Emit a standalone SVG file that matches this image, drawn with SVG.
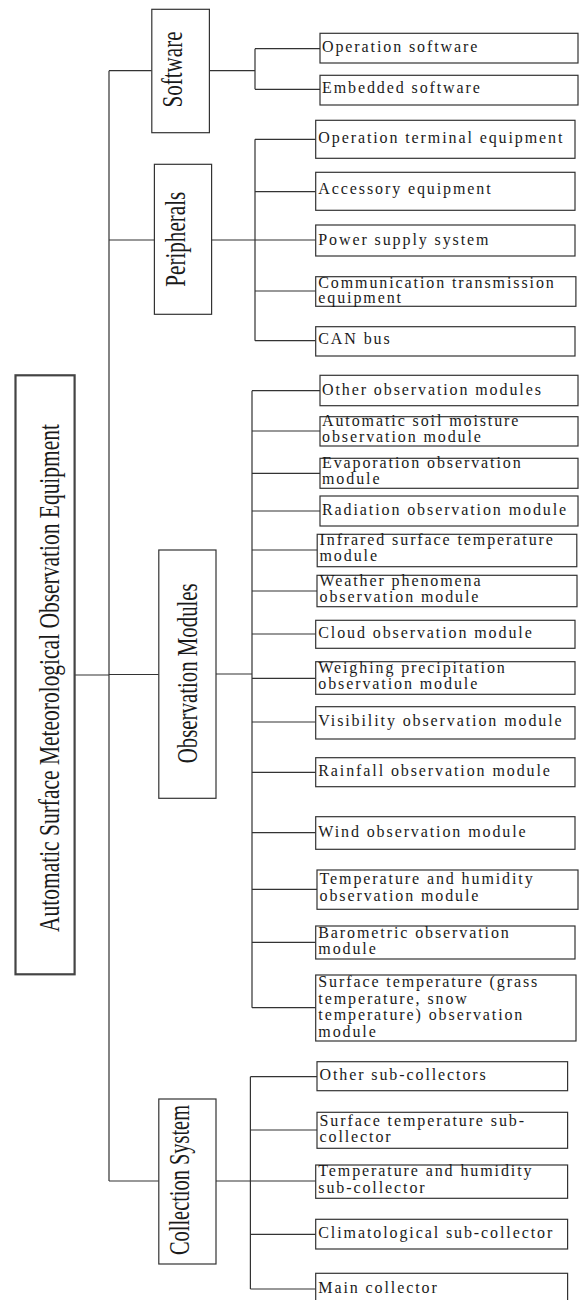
<svg xmlns="http://www.w3.org/2000/svg" width="579" height="1300" viewBox="0 0 579 1300">
<style>
  .bg { fill: #ffffff; }
  .box { fill: #ffffff; stroke: #333333; stroke-width: 1.2; }
  .root { fill: #ffffff; stroke: #444444; stroke-width: 2.2; }
  .lbl { font-family: "Liberation Serif", "Times New Roman", serif; font-size: 16px; letter-spacing: 1.9px; fill: #1a1a1a; }
  .vt { font-family: "Liberation Serif", "Times New Roman", serif; font-size: 30px; fill: #1a1a1a; text-anchor: middle; }
  .conn { fill: none; stroke: #333333; stroke-width: 1.2; }
</style>
<rect class="bg" x="0" y="0" width="579" height="1300"/>

<g id="connectors">
  <path class="conn" d="M74.6,675 H109 M109,70.7 V1181 M109,70.7 H151.8 M109,240 H154.4 M109,674.5 H158.8 M109,1181 H158.8"/>
  <path class="conn" d="M209.4,70.7 H255 M255,48.7 V89.3 M255,48.7 H320 M255,89.3 H320"/>
  <path class="conn" d="M211.6,240 H255 M255,139.3 V340.7 M255,139.3 H315.7 M255,191.7 H315.7 M255,240 H315.7 M255,291 H315.7 M255,340.7 H315.7"/>
  <path class="conn" d="M216,674 H252 M252,390.7 V1007.7 M252,390.7 H320 M252,431 H320 M252,473.3 H320 M252,511 H320 M252,550 H317.2 M252,591 H317 M252,634 H315.7 M252,678.3 H315.7 M252,722 H315.7 M252,772.3 H315.7 M252,832.7 H315.7 M252,889.3 H317 M252,942.3 H315.7 M252,1007.7 H315.7"/>
  <path class="conn" d="M216,1181 H250.4 M250.4,1076.7 V1289 M250.4,1076.7 H317 M250.4,1130 H317 M250.4,1181 H315.7 M250.4,1234.3 H315.7 M250.4,1289 H315.7"/>
</g>

<g id="root">
  <rect class="root" x="15.5" y="375.3" width="59.1" height="599"/>
  <text class="vt" transform="translate(59,678) rotate(-90)" textLength="508" lengthAdjust="spacingAndGlyphs">Automatic Surface Meteorological Observation Equipment</text>
</g>

<g id="software">
  <rect class="box" x="151.8" y="9.3" width="57.6" height="123.4"/>
  <text class="vt" transform="translate(182,69.5) rotate(-90)" textLength="76" lengthAdjust="spacingAndGlyphs">Software</text>
</g>
<g id="peripherals">
  <rect class="box" x="154.4" y="164.3" width="57.2" height="150"/>
  <text class="vt" transform="translate(185,239.2) rotate(-90)" textLength="95" lengthAdjust="spacingAndGlyphs">Peripherals</text>
</g>
<g id="observation-modules">
  <rect class="box" x="158.8" y="550" width="57.2" height="248.3"/>
  <text class="vt" transform="translate(196.5,673.3) rotate(-90)" textLength="180" lengthAdjust="spacingAndGlyphs">Observation Modules</text>
</g>
<g id="collection-system">
  <rect class="box" x="158.8" y="1099" width="57.2" height="165"/>
  <text class="vt" transform="translate(189,1180) rotate(-90)" textLength="150" lengthAdjust="spacingAndGlyphs">Collection System</text>
</g>

<g id="operation-software">
  <rect class="box" x="320" y="33.3" width="258" height="29.7"/>
  <text class="lbl" x="322" y="51.5">Operation software</text>
</g>
<g id="embedded-software">
  <rect class="box" x="320" y="75.3" width="258" height="29.7"/>
  <text class="lbl" x="322" y="92.5">Embedded software</text>
</g>

<g id="operation-terminal-equipment">
  <rect class="box" x="315.7" y="120.3" width="259.3" height="38"/>
  <text class="lbl" x="318.3" y="142.5">Operation terminal equipment</text>
</g>
<g id="accessory-equipment">
  <rect class="box" x="315.7" y="172.3" width="259.3" height="38"/>
  <text class="lbl" x="318.3" y="194">Accessory equipment</text>
</g>
<g id="power-supply-system">
  <rect class="box" x="315.7" y="225" width="259.3" height="31"/>
  <text class="lbl" x="318.3" y="244.5">Power supply system</text>
</g>
<g id="communication-transmission-equipment">
  <rect class="box" x="315.7" y="276.7" width="260.2" height="29.6"/>
  <text class="lbl"><tspan x="318.3" y="287.5">Communication transmission</tspan><tspan x="318.3" y="302.5">equipment</tspan></text>
</g>
<g id="can-bus">
  <rect class="box" x="315.7" y="326.7" width="259.3" height="29.3"/>
  <text class="lbl" x="318.3" y="344">CAN bus</text>
</g>

<g id="other-observation-modules">
  <rect class="box" x="320" y="375.3" width="258" height="30.4"/>
  <text class="lbl" x="322" y="394.5">Other observation modules</text>
</g>
<g id="automatic-soil-moisture-observation-module">
  <rect class="box" x="320" y="416.7" width="258" height="29.3"/>
  <text class="lbl"><tspan x="322" y="426">Automatic soil moisture</tspan><tspan x="322" y="442">observation module</tspan></text>
</g>
<g id="evaporation-observation-module">
  <rect class="box" x="320" y="458.3" width="258" height="30"/>
  <text class="lbl"><tspan x="322" y="468">Evaporation observation</tspan><tspan x="322" y="484">module</tspan></text>
</g>
<g id="radiation-observation-module">
  <rect class="box" x="320" y="496" width="258" height="30"/>
  <text class="lbl" x="322" y="514.5">Radiation observation module</text>
</g>
<g id="infrared-surface-temperature-module">
  <rect class="box" x="317.2" y="534.3" width="259.6" height="32.4"/>
  <text class="lbl"><tspan x="319.5" y="545">Infrared surface temperature</tspan><tspan x="319.5" y="561">module</tspan></text>
</g>
<g id="weather-phenomena-observation-module">
  <rect class="box" x="317" y="575.3" width="260" height="31.4"/>
  <text class="lbl"><tspan x="319.5" y="585.5">Weather phenomena</tspan><tspan x="319.5" y="602">observation module</tspan></text>
</g>
<g id="cloud-observation-module">
  <rect class="box" x="315.7" y="620.3" width="259.3" height="28"/>
  <text class="lbl" x="318.3" y="637.5">Cloud observation module</text>
</g>
<g id="weighing-precipitation-observation-module">
  <rect class="box" x="315.7" y="661.7" width="259.3" height="32.6"/>
  <text class="lbl"><tspan x="318.3" y="672.5">Weighing precipitation</tspan><tspan x="318.3" y="689">observation module</tspan></text>
</g>
<g id="visibility-observation-module">
  <rect class="box" x="315.7" y="706.7" width="259.3" height="32.3"/>
  <text class="lbl" x="318.3" y="726">Visibility observation module</text>
</g>
<g id="rainfall-observation-module">
  <rect class="box" x="315.7" y="757.7" width="259.3" height="29"/>
  <text class="lbl" x="318.3" y="776">Rainfall observation module</text>
</g>
<g id="wind-observation-module">
  <rect class="box" x="315.7" y="816.7" width="259.3" height="32.6"/>
  <text class="lbl" x="318.3" y="836.5">Wind observation module</text>
</g>
<g id="temperature-and-humidity-observation-module">
  <rect class="box" x="317" y="870" width="261" height="39.3"/>
  <text class="lbl"><tspan x="319.5" y="883.5">Temperature and humidity</tspan><tspan x="319.5" y="900.5">observation module</tspan></text>
</g>
<g id="barometric-observation-module">
  <rect class="box" x="315.7" y="926" width="259.3" height="33"/>
  <text class="lbl"><tspan x="318.3" y="937.5">Barometric observation</tspan><tspan x="318.3" y="953.5">module</tspan></text>
</g>
<g id="surface-temperature-observation-module">
  <rect class="box" x="315.7" y="975" width="260.3" height="66"/>
  <text class="lbl"><tspan x="318.3" y="987">Surface temperature (grass</tspan><tspan x="318.3" y="1003.5">temperature, snow</tspan><tspan x="318.3" y="1020">temperature) observation</tspan><tspan x="318.3" y="1036.5">module</tspan></text>
</g>

<g id="other-sub-collectors">
  <rect class="box" x="317" y="1061.7" width="250.6" height="29"/>
  <text class="lbl" x="319.5" y="1080">Other sub-collectors</text>
</g>
<g id="surface-temperature-sub-collector">
  <rect class="box" x="317" y="1112.3" width="250.6" height="36"/>
  <text class="lbl"><tspan x="319.5" y="1125.5">Surface temperature sub-</tspan><tspan x="319.5" y="1141.5">collector</tspan></text>
</g>
<g id="temperature-and-humidity-sub-collector">
  <rect class="box" x="315.7" y="1165" width="251.9" height="33.3"/>
  <text class="lbl"><tspan x="318.3" y="1176">Temperature and humidity</tspan><tspan x="318.3" y="1192.5">sub-collector</tspan></text>
</g>
<g id="climatological-sub-collector">
  <rect class="box" x="315.7" y="1219.3" width="251.9" height="29.7"/>
  <text class="lbl" x="318.3" y="1237.5">Climatological sub-collector</text>
</g>
<g id="main-collector">
  <rect class="box" x="315.7" y="1273.3" width="251.9" height="40"/>
  <text class="lbl" x="318.3" y="1292.5">Main collector</text>
</g>
</svg>
